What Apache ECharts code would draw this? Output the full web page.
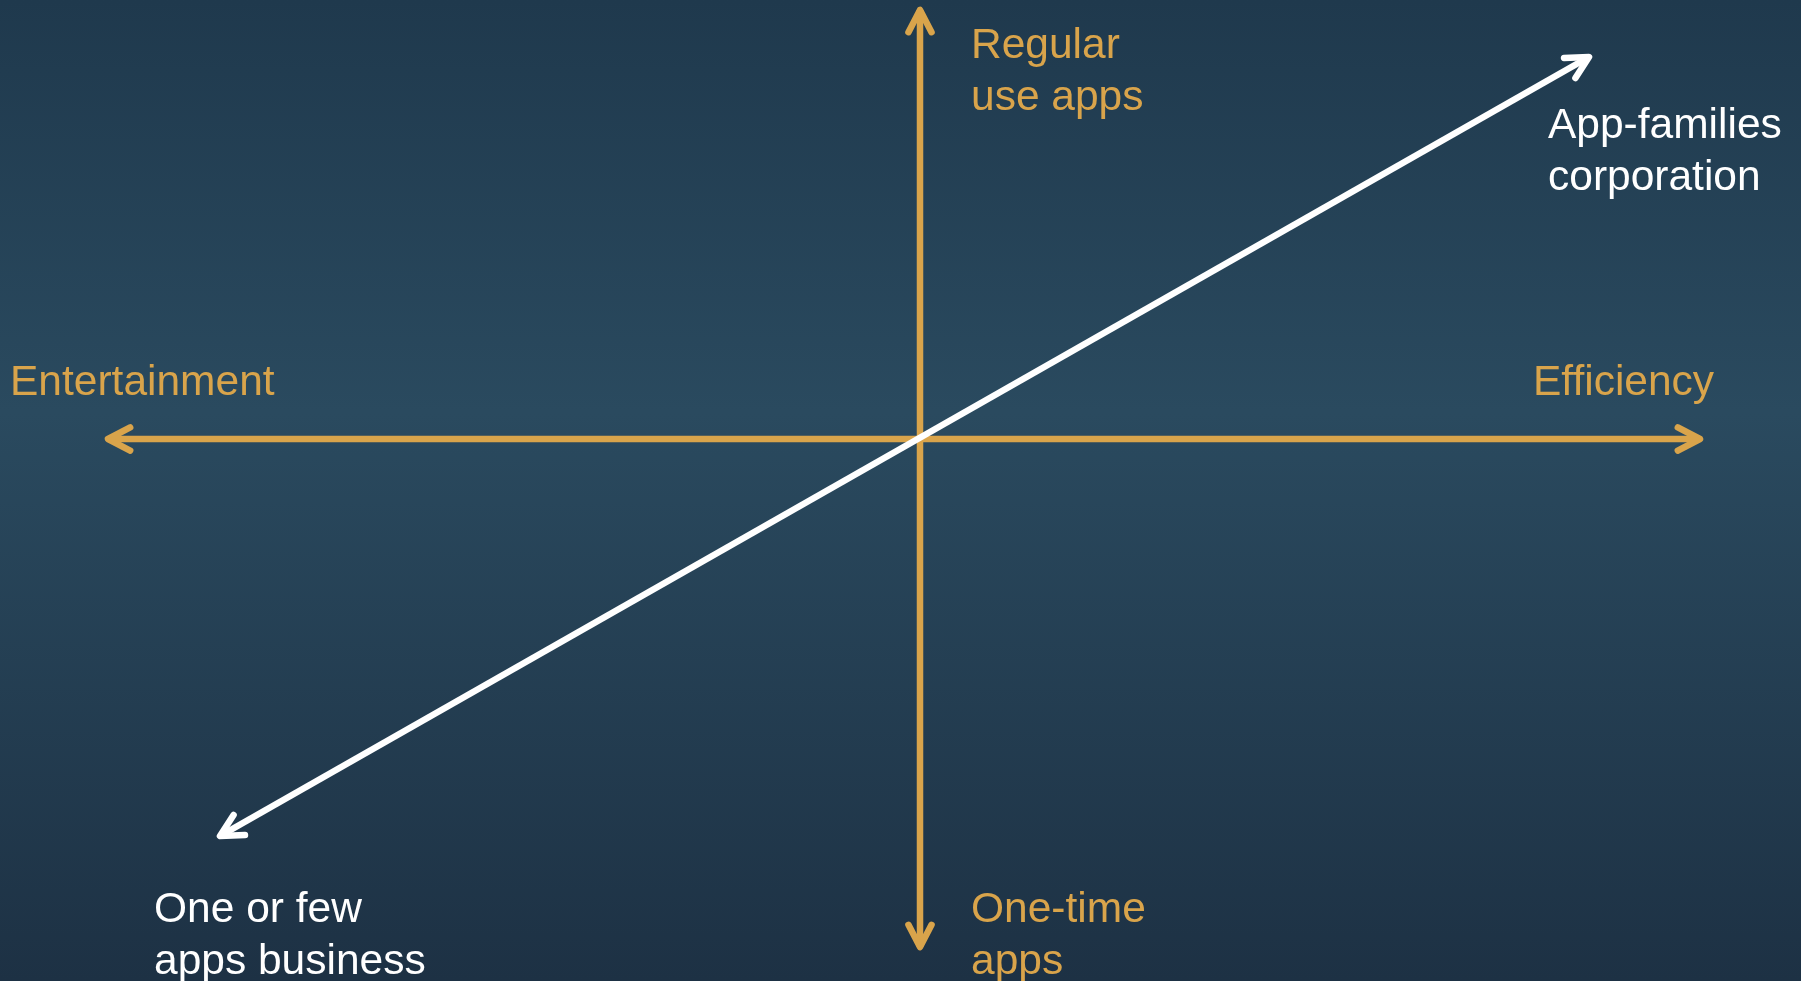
<!DOCTYPE html>
<html>
<head>
<meta charset="utf-8">
<script src="https://cdn.jsdelivr.net/npm/echarts@6/dist/echarts.min.js"></script>
<style>
  html, body { margin: 0; padding: 0; }
  #main { width: 1801px; height: 981px; }
</style>
</head>
<body>
<div id="main"></div>
<script>
// axis arrows in chart units, origin at the crossing point: [x1, y1, x2, y2]
var axisArrows = [
  [-812, 0, 780, 0],     // Entertainment <-> Efficiency
  [0, -508, 0, 429]      // One-time apps <-> Regular use apps
];
var scaleArrow = [
  [-700, -397, 669, 382] // One or few apps business <-> App-families corporation
];

var gold = '#d9a44b';
var white = '#ffffff';

var chartDom = document.getElementById('main');
var myChart = echarts.init(chartDom);
var option;

function renderArrow(color) {
  return function (params, api) {
    var p1 = api.coord([api.value(0), api.value(1)]);
    var p2 = api.coord([api.value(2), api.value(3)]);
    var ang = Math.atan2(p2[1] - p1[1], p2[0] - p1[0]);
    var len = 25, spread = 27.5 * Math.PI / 180;
    function head(tip, dir) {
      return {
        type: 'polyline',
        shape: { points: [
          [tip[0] - len * Math.cos(dir - spread), tip[1] - len * Math.sin(dir - spread)],
          tip,
          [tip[0] - len * Math.cos(dir + spread), tip[1] - len * Math.sin(dir + spread)]
        ] },
        style: { stroke: color, lineWidth: 6.5, fill: null, lineCap: 'round', lineJoin: 'round' }
      };
    }
    return {
      type: 'group',
      children: [
        {
          type: 'line',
          shape: { x1: p1[0], y1: p1[1], x2: p2[0], y2: p2[1] },
          style: { stroke: color, lineWidth: 6.5, lineCap: 'butt' }
        },
        head(p2, ang),
        head(p1, ang + Math.PI)
      ]
    };
  };
}

var font = '42.5px "Liberation Sans", Arial, sans-serif';
function label(text, x, y, color) {
  return {
    type: 'text', x: x, y: y, silent: true,
    style: { text: text, font: font, fill: color, lineHeight: 52, verticalAlign: 'top' }
  };
}

option = {
  animation: false,
  backgroundColor: {
    type: 'linear', x: 0, y: 0, x2: 0, y2: 1,
    colorStops: [
      { offset: 0, color: '#1f394d' },
      { offset: 0.42, color: '#2a4a5f' },
      { offset: 1, color: '#1d3144' }
    ]
  },
  grid: { left: 0, top: 0, width: 1801, height: 981 },
  xAxis: { type: 'value', min: -920, max: 881, show: false },
  yAxis: { type: 'value', min: -542, max: 439, show: false },
  series: [
    {
      type: 'custom',
      data: axisArrows,
      encode: { x: [0, 2], y: [1, 3] },
      renderItem: renderArrow(gold)
    },
    {
      type: 'custom',
      data: scaleArrow,
      encode: { x: [0, 2], y: [1, 3] },
      renderItem: renderArrow(white)
    }
  ],
  graphic: [
    label('Regular\nuse apps', 971, 20, gold),
    label('Entertainment', 10, 357, gold),
    label('Efficiency', 1533, 357, gold),
    label('App-families\ncorporation', 1548, 100, white),
    label('One or few\napps business', 154, 884, white),
    label('One-time\napps', 971, 884, gold)
  ]
};

myChart.setOption(option);
</script>
</body>
</html>
